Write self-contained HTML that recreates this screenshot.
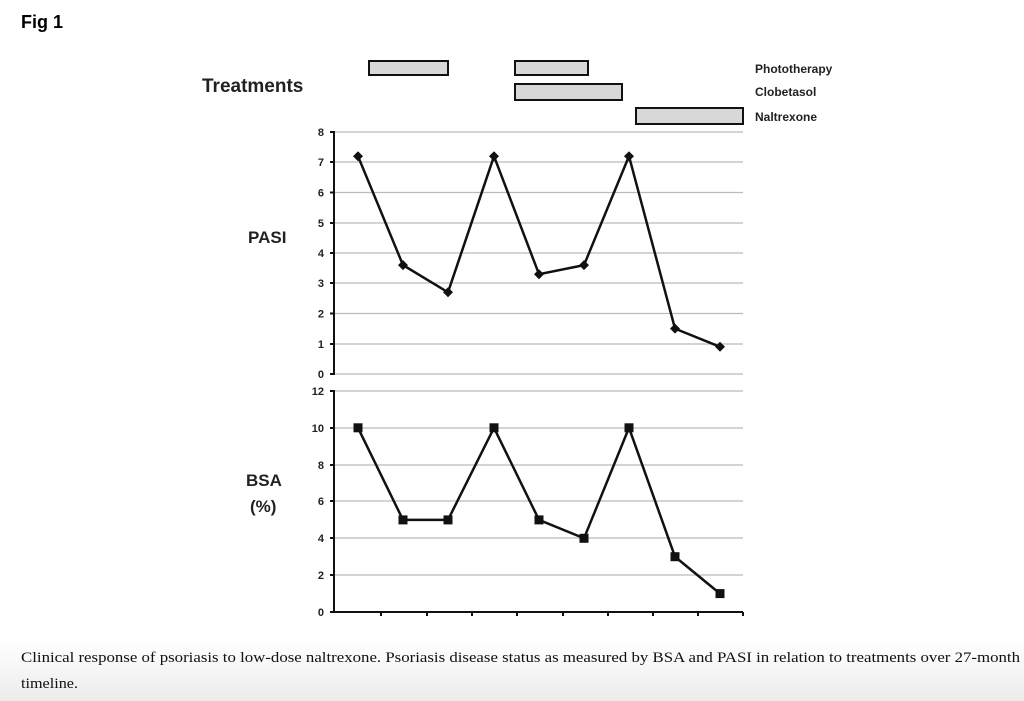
<!DOCTYPE html><html><head><style>body{margin:0;background:#fff}svg{display:block}</style></head><body>
<svg width="1024" height="701" xmlns="http://www.w3.org/2000/svg" font-family="Liberation Sans, sans-serif">
<defs><linearGradient id="g" x1="0" y1="0" x2="0" y2="1"><stop offset="0" stop-color="#fff"/><stop offset="1" stop-color="#ececec"/></linearGradient></defs>
<rect x="0" y="640" width="1024" height="61" fill="url(#g)"/>
<text x="21" y="28" font-size="18" font-weight="bold">Fig 1</text>
<text x="202" y="92" font-size="19" font-weight="bold" fill="#222">Treatments</text>
<g fill="#d8d8d8" stroke="#111" stroke-width="2">
<rect x="369" y="61" width="79" height="14"/><rect x="515" y="61" width="73" height="14"/>
<rect x="515" y="84" width="107" height="16"/><rect x="636" y="108" width="107" height="16"/></g>
<g font-size="12" font-weight="bold" fill="#222"><text x="755" y="73">Phototherapy</text><text x="755" y="96">Clobetasol</text><text x="755" y="121">Naltrexone</text></g>
<text x="248" y="243" font-size="17" font-weight="bold" fill="#222">PASI</text>
<text x="246" y="486" font-size="17" font-weight="bold" fill="#222">BSA</text>
<text x="250" y="512" font-size="17" font-weight="bold" fill="#222">(%)</text>
<g stroke="#bbb" stroke-width="1.3">
<line x1="333" y1="132" x2="743" y2="132"/><line x1="333" y1="162" x2="743" y2="162"/><line x1="333" y1="192.5" x2="743" y2="192.5"/><line x1="333" y1="223" x2="743" y2="223"/><line x1="333" y1="253" x2="743" y2="253"/><line x1="333" y1="283" x2="743" y2="283"/><line x1="333" y1="313.5" x2="743" y2="313.5"/><line x1="333" y1="344" x2="743" y2="344"/><line x1="333" y1="374" x2="743" y2="374"/>
<line x1="333" y1="391" x2="743" y2="391"/><line x1="333" y1="428" x2="743" y2="428"/><line x1="333" y1="465" x2="743" y2="465"/><line x1="333" y1="501" x2="743" y2="501"/><line x1="333" y1="538" x2="743" y2="538"/><line x1="333" y1="575" x2="743" y2="575"/></g>
<g stroke="#111" stroke-width="2" fill="none">
<line x1="334" y1="131" x2="334" y2="375"/><line x1="334" y1="390" x2="334" y2="612"/><line x1="333" y1="612" x2="743" y2="612"/>
<path d="M330 132h4M330 162h4M330 192.5h4M330 223h4M330 253h4M330 283h4M330 313.5h4M330 344h4M330 374h4M330 391h4M330 428h4M330 465h4M330 501h4M330 538h4M330 575h4M330 612h4"/>
<path d="M381 612v4M427 612v4M472 612v4M517 612v4M563 612v4M608 612v4M653 612v4M698 612v4M743 612v4"/>
<polyline stroke-width="2.5" points="358,156.2 403,265.1 448,292.3 494,156.2 539,274.2 584,265.1 629,156.2 675,328.6 720,346.8"/>
<polyline stroke-width="2.5" points="358,427.8 403,519.9 448,519.9 494,427.8 539,519.9 584,538.3 629,427.8 675,556.7 720,593.6"/></g>
<g fill="#111">
<g transform="translate(358,156.2)"><path d="M0-5L5 0 0 5-5 0z"/></g><g transform="translate(403,265.1)"><path d="M0-5L5 0 0 5-5 0z"/></g><g transform="translate(448,292.3)"><path d="M0-5L5 0 0 5-5 0z"/></g><g transform="translate(494,156.2)"><path d="M0-5L5 0 0 5-5 0z"/></g><g transform="translate(539,274.2)"><path d="M0-5L5 0 0 5-5 0z"/></g><g transform="translate(584,265.1)"><path d="M0-5L5 0 0 5-5 0z"/></g><g transform="translate(629,156.2)"><path d="M0-5L5 0 0 5-5 0z"/></g><g transform="translate(675,328.6)"><path d="M0-5L5 0 0 5-5 0z"/></g><g transform="translate(720,346.8)"><path d="M0-5L5 0 0 5-5 0z"/></g>
<rect x="353.5" y="423.3" width="9" height="9"/><rect x="398.5" y="515.4" width="9" height="9"/><rect x="443.5" y="515.4" width="9" height="9"/><rect x="489.5" y="423.3" width="9" height="9"/><rect x="534.5" y="515.4" width="9" height="9"/><rect x="579.5" y="533.8" width="9" height="9"/><rect x="624.5" y="423.3" width="9" height="9"/><rect x="670.5" y="552.2" width="9" height="9"/><rect x="715.5" y="589.1" width="9" height="9"/></g>
<g font-size="11" font-weight="bold" fill="#222" text-anchor="end">
<text x="324" y="136">8</text><text x="324" y="166">7</text><text x="324" y="196.5">6</text><text x="324" y="227">5</text><text x="324" y="257">4</text><text x="324" y="287">3</text><text x="324" y="317.5">2</text><text x="324" y="348">1</text><text x="324" y="378">0</text>
<text x="324" y="395">12</text><text x="324" y="432">10</text><text x="324" y="469">8</text><text x="324" y="505">6</text><text x="324" y="542">4</text><text x="324" y="579">2</text><text x="324" y="616">0</text></g>
<g font-family="Liberation Serif, serif" font-size="15" fill="#111">
<text x="21" y="662" textLength="999" lengthAdjust="spacingAndGlyphs">Clinical response of psoriasis to low-dose naltrexone. Psoriasis disease status as measured by BSA and PASI in relation to treatments over 27-month</text>
<text x="21" y="688" textLength="57" lengthAdjust="spacingAndGlyphs">timeline.</text></g>
</svg></body></html>
